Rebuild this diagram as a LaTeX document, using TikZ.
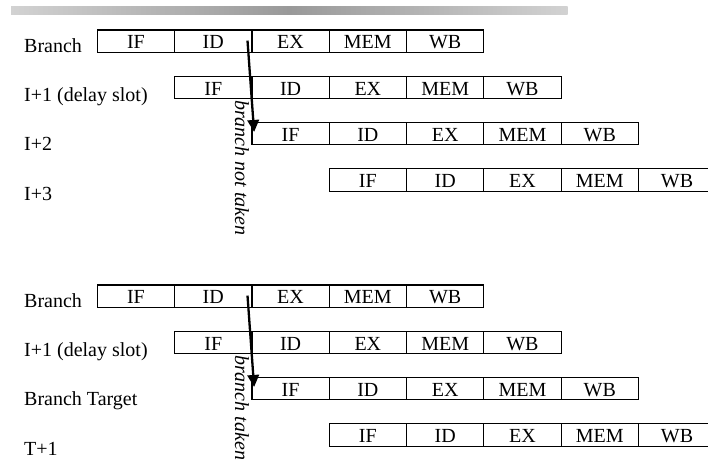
\documentclass[tikz,border=0pt]{standalone}
\usepackage{fontspec}
\setmainfont{Liberation Serif}
\usetikzlibrary{arrows.meta,calc}
\definecolor{barlight}{HTML}{D2D2D2}
\definecolor{bardark}{HTML}{999999}
% light -- dark -- light band for the title bar
\pgfdeclarehorizontalshading{barshade}{100bp}{
  color(0bp)=(barlight); color(25bp)=(barlight); color(50bp)=(bardark);
  color(75bp)=(barlight); color(100bp)=(barlight)}
\begin{document}
\begin{tikzpicture}[x=1pt,y=-1pt,
  stage/.style={draw, line width=1.2pt, minimum width=77.3pt, minimum height=22.3pt,
    inner sep=0pt, anchor=north west, text height=15.5pt, text depth=0pt,
    font=\fontsize{20}{24}\selectfont},
  rowlabel/.style={anchor=base west, inner sep=0pt, font=\fontsize{20}{24}\selectfont},
  jump/.style={line width=2.3pt, -{Triangle[length=12pt,width=11.5pt]}},
  note/.style={font=\fontsize{20}{24}\selectfont\itshape, rotate=-90, anchor=west, inner sep=0pt}]
\useasboundingbox (0,0) rectangle (708,467);

% title bar
\shade[shading=barshade] (11,6) rectangle (567.7,14);

% pipeline stages: t = not taken section, b = taken section
\foreach \sec/\yo in {t/0,b/255}{
  \foreach \r in {0,...,3}{
    \foreach \st [count=\c] in {IF,ID,EX,MEM,WB}{
      \node[stage] (\sec\r-\c) at ({96.7+77.3*(\r+\c-1)}, {29.3+46.3*\r+\yo}) {\st};
    }
  }
}

% row labels
\node[rowlabel] (tl0) at (24,52.3) {Branch};
\node[rowlabel] (tl1) at (24,101.3) {I+1 (delay slot)};
\node[rowlabel] (tl2) at (24,150.6) {I+2};
\node[rowlabel] (tl3) at (24,200) {I+3};
\node[rowlabel] (bl0) at (24,307) {Branch};
\node[rowlabel] (bl1) at (24,356.3) {I+1 (delay slot)};
\node[rowlabel] (bl2) at (24,405.6) {Branch Target};
\node[rowlabel] (bl3) at (24,455) {T+1};

% branch resolution arrows
\draw[jump] ($(t0-2.east)+(-5,-0.5)$) -- ($(t2-1.west)+(2.8,-1.7)$);
\draw[jump] ($(b0-2.east)+(-5,-0.5)$) -- ($(b2-1.west)+(2.8,-1.7)$);

\node[note] (tn) at (242,100) {branch not taken};
\node[note] (bn) at (242,355) {branch taken};
\end{tikzpicture}
\end{document}
